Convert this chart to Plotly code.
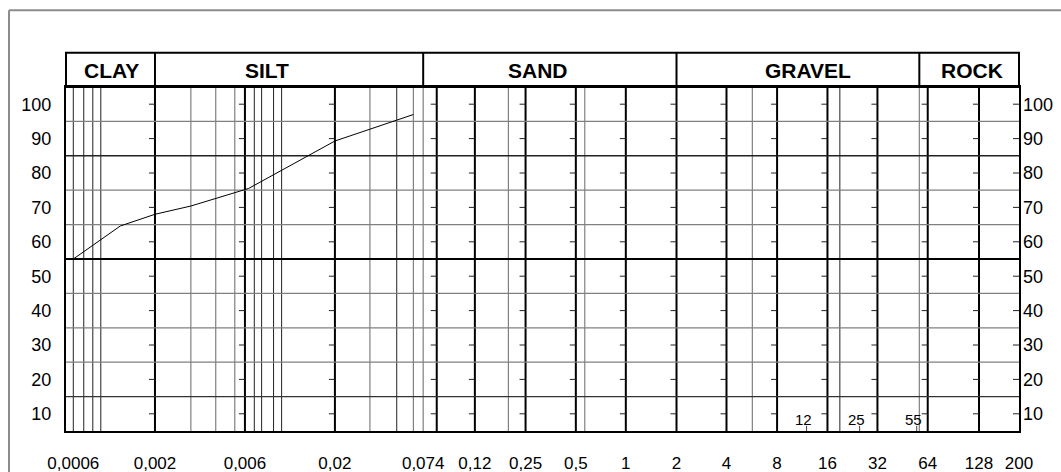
import numpy as np
import plotly.graph_objects as go

# ---------------- data ----------------
# grain size scale (mm) and their printed labels
size_ticks = [0.0006, 0.002, 0.006, 0.02, 0.074, 0.12, 0.25, 0.5, 1, 2, 4, 8, 16, 32, 64, 128, 200]
size_labels = ["0,0006", "0,002", "0,006", "0,02", "0,074", "0,12", "0,25", "0,5", "1", "2",
               "4", "8", "16", "32", "64", "128", "200"]

# percentage scale
pct_ticks = [10, 20, 30, 40, 50, 60, 70, 80, 90, 100]

# grading curve
curve_size = [0.0006, 0.0012, 0.002, 0.0031, 0.0063, 0.02, 0.064]
curve_pct = [55.0, 64.6, 68.0, 70.4, 75.5, 89.3, 97.0]

# soil classes and their upper size limits (mm)
class_names = ["CLAY", "SILT", "SAND", "GRAVEL", "ROCK"]
class_limits = [0.002, 0.074, 2, 57, 200]

# sieve sizes marked along the bottom of the gravel band
sieve_marks = [12, 25, 55]

# grid line sizes (mm)
major_sizes = [0.002, 0.006, 0.02, 0.084, 0.12, 0.25, 0.5, 1, 2, 4, 8, 16, 32, 64, 128]
thin_sizes = [0.0006, 0.0007, 0.0008, 0.0009, 0.0068, 0.0075, 0.0088, 0.0098, 0.05, 19]
gray_sizes = [0.0031, 0.0042, 0.0053, 0.0336, 0.064, 0.074, 0.195, 0.566, 5.7, 57]
tick_mark_sizes = [0.002, 0.006, 0.02, 0.084, 0.12, 0.25, 0.5, 1, 2, 4, 8, 16, 32, 64, 128, 200]

# ---------------- scale ----------------
# the form uses a stretched log scale: each labelled size sits at a fixed place
AXIS_LEN = 953.3
TICK_POS = [7.3, 89, 179, 269, 357.3, 409, 459.7, 510, 560, 610.7, 660.7, 711.3,
            761.7, 811.7, 862, 913.3, 953.3]


def to_pos(s):
    return np.interp(np.log(np.asarray(s, dtype=float)), np.log(size_ticks), TICK_POS)


Y0, Y1 = 5, 105
FONT = "Liberation Sans, Arial, sans-serif"

fig = go.Figure()

shapes = []


def vline(size, color, width):
    x = float(to_pos(size))
    shapes.append(dict(type="line", xref="x", yref="y", x0=x, x1=x, y0=Y0, y1=Y1,
                       line=dict(color=color, width=width), layer="below"))


for s in gray_sizes:
    vline(s, "#808080", 1.2)
for s in thin_sizes:
    vline(s, "#222222", 1)
for s in major_sizes:
    vline(s, "#000000", 2)

# horizontal grid lines between the percentage labels
hstyle = {15: ("#333333", 1.3), 25: ("#808080", 1.3), 35: ("#808080", 1.3), 45: ("#808080", 1.3),
          55: ("#000000", 2.2), 65: ("#808080", 1.3), 75: ("#808080", 1.3), 85: ("#222222", 1.5),
          95: ("#808080", 1.3)}
for yv, (c, w) in hstyle.items():
    shapes.append(dict(type="line", xref="x", yref="y", x0=0, x1=AXIS_LEN, y0=yv, y1=yv,
                       line=dict(color=c, width=w), layer="below"))

# header band with class names
H_TOP = 1.0999
shapes.append(dict(type="rect", xref="paper", yref="paper", x0=0, x1=1, y0=1, y1=H_TOP,
                   line=dict(color="black", width=2)))
for lim in class_limits[:-1]:
    px = float(to_pos(lim)) / AXIS_LEN
    shapes.append(dict(type="line", xref="paper", yref="paper", x0=px, x1=px, y0=1, y1=H_TOP,
                       line=dict(color="black", width=2)))

# outer frame of the sheet
shapes.append(dict(type="line", xref="paper", yref="paper", x0=-0.0598, x1=1.05, y0=1.2228, y1=1.2228,
                   line=dict(color="#8c8c8c", width=2)))
shapes.append(dict(type="line", xref="paper", yref="paper", x0=-0.0598, x1=-0.0598, y0=-0.2, y1=1.2228,
                   line=dict(color="#8c8c8c", width=2)))

# small sieve ticks at the bottom
for s in sieve_marks:
    x = float(to_pos(s))
    shapes.append(dict(type="line", xref="x", yref="y", x0=x, x1=x, y0=Y0, y1=6.5,
                       line=dict(color="#444444", width=1)))

# short level marks on the left side of each major line
tx, ty = [], []
for s in tick_mark_sizes:
    x = float(to_pos(s))
    for p in pct_ticks:
        tx += [x - 6, x, None]
        ty += [p, p, None]
fig.add_trace(go.Scatter(x=tx, y=ty, mode="lines", line=dict(color="#222222", width=1),
                         hoverinfo="skip", showlegend=False))

# grading curve
fig.add_trace(go.Scatter(x=to_pos(curve_size), y=curve_pct, mode="lines",
                         line=dict(color="black", width=1), showlegend=False))

# right-hand percentage axis
fig.add_trace(go.Scatter(x=[None], y=[None], yaxis="y2", showlegend=False, hoverinfo="skip"))

annotations = []
label_x = [45.7, 201, 472, 742, 906]
for name, lx in zip(class_names, label_x):
    annotations.append(dict(text="<b>" + name + "</b>", x=lx, xref="x", y=1.047, yref="paper",
                            showarrow=False, font=dict(family=FONT, size=21, color="black"),
                            xanchor="center", yanchor="middle"))
for s in sieve_marks:
    annotations.append(dict(text=str(s), x=float(to_pos(s)) - 3, xref="x", y=8.2, yref="y",
                            showarrow=False, font=dict(family=FONT, size=15, color="black"),
                            xanchor="center", yanchor="middle"))

fig.update_layout(
    template="none",
    width=1061, height=472,
    margin=dict(l=66, r=42, t=87, b=41),
    paper_bgcolor="white", plot_bgcolor="white",
    shapes=shapes, annotations=annotations,
    xaxis=dict(range=[0, AXIS_LEN], showgrid=False, zeroline=False, automargin=False,
               showline=True, mirror=True, linecolor="black", linewidth=2,
               tickmode="array", tickvals=list(to_pos(size_ticks)), ticktext=size_labels,
               ticks="", ticklabelstandoff=16, tickfont=dict(family=FONT, size=17, color="black")),
    yaxis=dict(range=[Y0, Y1], showgrid=False, zeroline=False, automargin=False,
               showline=True, mirror=True, linecolor="black", linewidth=2,
               tickmode="array", tickvals=pct_ticks, ticks="", ticklabelstandoff=9,
               tickfont=dict(family=FONT, size=18, color="black")),
    yaxis2=dict(range=[Y0, Y1], overlaying="y", side="right", showgrid=False, zeroline=False,
                automargin=False, showline=False,
                tickmode="array", tickvals=pct_ticks, ticks="", ticklabelstandoff=3,
                tickfont=dict(family=FONT, size=18, color="black")),
)

fig.write_html("out.html")
